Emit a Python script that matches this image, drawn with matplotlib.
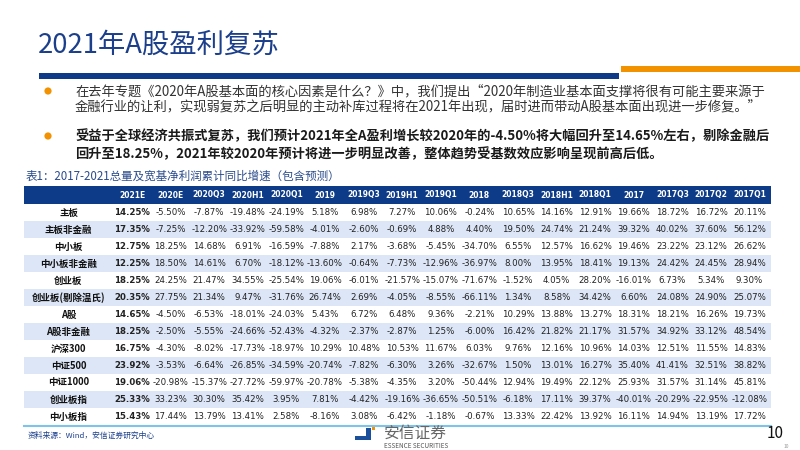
import matplotlib
matplotlib.use("Agg")
import matplotlib.pyplot as plt
from matplotlib.patches import Rectangle, Circle

plt.rcParams['font.family'] = ['Noto Sans CJK SC', 'DejaVu Sans']

title = "2021年A股盈利复苏"
bullet1 = ["在去年专题《2020年A股基本面的核心因素是什么？》中，我们提出“2020年制造业基本面支撑将很有可能主要来源于",
           "金融行业的让利，实现弱复苏之后明显的主动补库过程将在2021年出现，届时进而带动A股基本面出现进一步修复。”"]
bullet2 = ["受益于全球经济共振式复苏，我们预计2021年全A盈利增长较2020年的-4.50%将大幅回升至14.65%左右，剔除金融后",
           "回升至18.25%，2021年较2020年预计将进一步明显改善，整体趋势受基数效应影响呈现前高后低。"]
caption = "表1：2017-2021总量及宽基净利润累计同比增速（包含预测）"
source = "资料来源：Wind，安信证券研究中心"

columns = ["2021E", "2020E", "2020Q3", "2020H1", "2020Q1", "2019", "2019Q3", "2019H1", "2019Q1",
           "2018", "2018Q3", "2018H1", "2018Q1", "2017", "2017Q3", "2017Q2", "2017Q1"]
rows = ["主板", "主板非金融", "中小板", "中小板非金融", "创业板", "创业板(剔除温氏)", "A股",
        "A股非金融", "沪深300", "中证500", "中证1000", "创业板指", "中小板指"]

v_zb = [14.25, -5.50, -7.87, -19.48, -24.19, 5.18, 6.98, 7.27, 10.06, -0.24, 10.65, 14.16, 12.91, 19.66, 18.72, 16.72, 20.11]
v_zbfj = [17.35, -7.25, -12.20, -33.92, -59.58, -4.01, -2.60, -0.69, 4.88, 4.40, 19.50, 24.74, 21.24, 39.32, 40.02, 37.60, 56.12]
v_zxb = [12.75, 18.25, 14.68, 6.91, -16.59, -7.88, 2.17, -3.68, -5.45, -34.70, 6.55, 12.57, 16.62, 19.46, 23.22, 23.12, 26.62]
v_zxbfj = [12.25, 18.50, 14.61, 6.70, -18.12, -13.60, -0.64, -7.73, -12.96, -36.97, 8.00, 13.95, 18.41, 19.13, 24.42, 24.45, 28.94]
v_cyb = [18.25, 24.25, 21.47, 34.55, -25.54, 19.06, -6.01, -21.57, -15.07, -71.67, -1.52, 4.05, 28.20, -16.01, 6.73, 5.34, 9.30]
v_cybtc = [20.35, 27.75, 21.34, 9.47, -31.76, 26.74, 2.69, -4.05, -8.55, -66.11, 1.34, 8.58, 34.42, 6.60, 24.08, 24.90, 25.07]
v_ag = [14.65, -4.50, -6.53, -18.01, -24.03, 5.43, 6.72, 6.48, 9.36, -2.21, 10.29, 13.88, 13.27, 18.31, 18.21, 16.26, 19.73]
v_agfj = [18.25, -2.50, -5.55, -24.66, -52.43, -4.32, -2.37, -2.87, 1.25, -6.00, 16.42, 21.82, 21.17, 31.57, 34.92, 33.12, 48.54]
v_hs300 = [16.75, -4.30, -8.02, -17.73, -18.97, 10.29, 10.48, 10.53, 11.67, 6.03, 9.76, 12.16, 10.96, 14.03, 12.51, 11.55, 14.83]
v_zz500 = [23.92, -3.53, -6.64, -26.85, -34.59, -20.74, -7.82, -6.30, 3.26, -32.67, 1.50, 13.01, 16.27, 35.40, 41.41, 32.51, 38.82]
v_zz1000 = [19.06, -20.98, -15.37, -27.72, -59.97, -20.78, -5.38, -4.35, 3.20, -50.44, 12.94, 19.49, 22.12, 25.93, 31.57, 31.14, 45.81]
v_cybz = [25.33, 33.23, 30.30, 35.42, 3.95, 7.81, -4.42, -19.16, -36.65, -50.51, -6.18, 17.11, 39.37, -40.01, -20.29, -22.95, -12.08]
v_zxbz = [15.43, 17.44, 13.79, 13.41, 2.58, -8.16, 3.08, -6.42, -1.18, -0.67, 13.33, 22.42, 13.92, 16.11, 14.94, 13.19, 17.72]
values = [v_zb, v_zbfj, v_zxb, v_zxbfj, v_cyb, v_cybtc, v_ag, v_agfj, v_hs300, v_zz500, v_zz1000, v_cybz, v_zxbz]

DARK = "#0D3B87"
ORANGE = "#F39200"
LIGHT = "#DCE6F6"

fig = plt.figure(figsize=(8, 4.5), dpi=100)
ax = fig.add_axes([0, 0, 1, 1])
ax.set_xlim(0, 800)
ax.set_ylim(450, 0)
ax.axis("off")

# title and rules
ax.text(38, 45, title, fontsize=19.7, color="#1B3F8B", va="center", ha="left")
ax.add_patch(Rectangle((39, 73), 580, 6, color=DARK, lw=0))
ax.add_patch(Rectangle((621, 66), 179, 6, color=ORANGE, lw=0))

# bullets
for yb in (91, 136):
    ax.add_patch(Circle((48, yb), 3.6, color=ORANGE, lw=0))
ax.text(75, 91, bullet1[0], fontsize=9.55, color="#333333", va="center", ha="left")
ax.text(75, 107, bullet1[1], fontsize=9.55, color="#333333", va="center", ha="left")
ax.text(75, 136, bullet2[0], fontsize=9.5, color="#1a1a1a", va="center", ha="left", fontweight="bold")
ax.text(75, 154, bullet2[1], fontsize=9.5, color="#1a1a1a", va="center", ha="left", fontweight="bold")

ax.text(26, 176, caption, fontsize=8.3, color="#2B4C8C", va="center", ha="left")

# table
x0, x1 = 24, 771
label_c = 68.5
col_c0, col_w = 132, 38.6
hdr_top, hdr_h, row_h = 186, 18, 17
ax.add_patch(Rectangle((x0, hdr_top), x1 - x0, hdr_h, color=DARK, lw=0))
for j, c in enumerate(columns):
    ax.text(col_c0 + j * col_w, hdr_top + hdr_h / 2, c, fontsize=5.5, color="white",
            fontweight="bold", ha="center", va="center", family="DejaVu Sans")
top = hdr_top + hdr_h
for i, (r, vals) in enumerate(zip(rows, values)):
    y = top + i * row_h
    if i % 2 == 1:
        ax.add_patch(Rectangle((x0, y), x1 - x0, row_h, color=LIGHT, lw=0))
    yc = y + row_h / 2
    ax.text(label_c, yc, r, fontsize=6.8, fontweight="bold", color="#111111", ha="center", va="center")
    for j, v in enumerate(vals):
        ax.text(col_c0 + j * col_w, yc, f"{v:.2f}%", fontsize=6.2, color="#222222",
                fontweight="bold" if j == 0 else "normal", ha="center", va="center",
                family="DejaVu Sans")
bot = top + len(rows) * row_h
ax.plot([x0, x1], [bot + 1, bot + 1], color="#7FC3E8", lw=1.5)

# footer
ax.text(28, 436, source, fontsize=5.6, color="#1B3F8B", va="center", ha="left")
ax.add_patch(Rectangle((355, 428), 16, 12, color="#1B4F9C", lw=0))
ax.add_patch(Rectangle((355, 428), 11, 8, color="white", lw=0))
ax.add_patch(Rectangle((372, 427), 3, 3, color=ORANGE, lw=0))
ax.text(384, 433, "安信证券", fontsize=11.3, color="#666666", va="center", ha="left")
ax.text(384, 445.5, "ESSENCE SECURITIES", fontsize=4.6, color="#555555", va="center", ha="left")
ax.text(767, 433, "10", fontsize=11, color="#111111", va="center", ha="left")
ax.text(784, 446, "10", fontsize=3.5, color="#999999", va="center", ha="left")

fig.savefig("out.png", dpi=100)
